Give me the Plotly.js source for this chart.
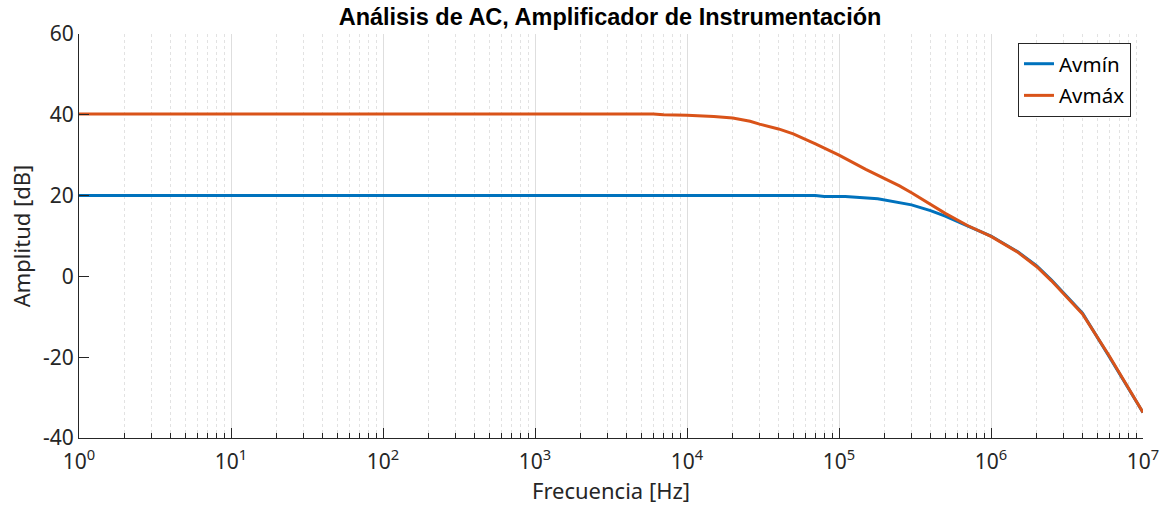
<!DOCTYPE html>
<html>
<head>
<meta charset="utf-8">
<script src="https://cdn.plot.ly/plotly-3.0.1.min.js"></script>
<style>html,body{margin:0;padding:0;background:#fff;}#chart{width:1162px;height:508px;}</style>
</head>
<body>
<div id="chart"></div>
<script>
// Frequency points [Hz]
const freqMin = [1, 10, 100, 1000, 1e4, 7e4, 8e4, 1.1e5, 1.8e5, 2.5e5, 3e5, 4e5, 5e5, 7e5, 1e6, 1.5e6, 2e6, 2.5e6, 4e6, 6e6, 1e7];
const avMin  = [20.0, 20.0, 20.0, 20.0, 20.0, 20.0, 19.8, 19.8, 19.2, 18.3, 17.7, 16.3, 14.9, 12.5, 10.0, 6.1, 2.6, -0.9, -9.1, -19.9, -33.7];

const freqMax = [1, 10, 100, 1000, 6e3, 7e3, 1e4, 1.5e4, 2e4, 2.6e4, 3e4, 4e4, 5e4, 7e4, 1e5, 1.5e5, 2e5, 2.5e5, 3e5, 4e5, 5e5, 7e5, 1e6, 1.5e6, 2e6, 2.5e6, 4e6, 6e6, 1e7];
const avMax  = [40.2, 40.2, 40.2, 40.2, 40.2, 40.0, 39.9, 39.6, 39.2, 38.4, 37.7, 36.5, 35.3, 32.8, 30.0, 26.5, 24.3, 22.4, 20.7, 17.9, 15.6, 12.6, 9.9, 6.0, 2.4, -1.1, -9.3, -19.7, -33.7];

const seriesNames = ['Avmín', 'Avmáx'];
const decades = [0, 1, 2, 3, 4, 5, 6, 7];
const xTickVals = decades.map(d => Math.pow(10, d));
const xTickText = decades.map(d => '10<sup>' + d + '</sup>');
const minorVals = [];
for (let d = 0; d < 7; d++) for (let m = 2; m <= 9; m++) minorVals.push(m * Math.pow(10, d));
const yTicks = [-40, -20, 0, 20, 40, 60];
const yTickText = yTicks.map(v => String(v));

const axisColor = '#262626';
const fam = 'Noto Sans, Open Sans, sans-serif';
const tickFont = {family: fam, size: 21, color: axisColor};

const traces = [
  {x: freqMin, y: avMin, name: seriesNames[0], legendgroup: 'a', mode: 'lines', line: {color: '#0072BD', width: 3}},
  {x: freqMax, y: avMax, name: seriesNames[1], legendgroup: 'b', mode: 'lines', line: {color: '#D95319', width: 3}}
];

const layout = {
  width: 1162, height: 508,
  margin: {l: 79, r: 19, t: 34, b: 70},
  paper_bgcolor: '#fff', plot_bgcolor: '#fff',
  showlegend: true,
  title: {text: '<b>Análisis de AC, Amplificador de Instrumentación</b>', x: 0.525, xanchor: 'center', y: 0.967, yanchor: 'middle',
          font: {family: 'Liberation Sans, Arial, sans-serif', size: 23.5, color: '#000'}},
  xaxis: {
    type: 'log', range: [0, 7],
    tickmode: 'array', tickvals: xTickVals, ticktext: xTickText,
    ticks: 'inside', ticklen: 10, tickcolor: axisColor, tickwidth: 1,
    showline: true, linecolor: axisColor, linewidth: 1,
    showgrid: true, gridcolor: '#dedede', gridwidth: 1,
    zeroline: false, tickfont: tickFont, ticklabelstandoff: 5,
    minor: {tickmode: 'array', tickvals: minorVals, ticks: 'inside', ticklen: 5, tickcolor: axisColor,
            showgrid: true, gridcolor: '#e2e2e2', griddash: 'dot', gridwidth: 1},
    title: {text: 'Frecuencia [Hz]', font: {family: fam, size: 22, color: axisColor}, standoff: 4}
  },
  yaxis: {
    range: [-40, 60], tickmode: 'array', tickvals: yTicks, ticktext: yTickText,
    ticks: 'inside', ticklen: 10, tickcolor: axisColor,
    showline: true, linecolor: axisColor, linewidth: 1,
    showgrid: false, zeroline: false, tickfont: tickFont,
    title: {text: 'Amplitud [dB]', font: {family: fam, size: 22, color: axisColor}, standoff: 6}
  },
  legend: {
    x: 0.9887, xanchor: 'right', y: 0.978, yanchor: 'top',
    bgcolor: '#fff', bordercolor: axisColor, borderwidth: 1,
    font: {family: fam, size: 20.5, color: '#000'},
    tracegroupgap: 2
  }
};

Plotly.newPlot('chart', traces, layout, {displayModeBar: false, staticPlot: true});
</script>
</body>
</html>
